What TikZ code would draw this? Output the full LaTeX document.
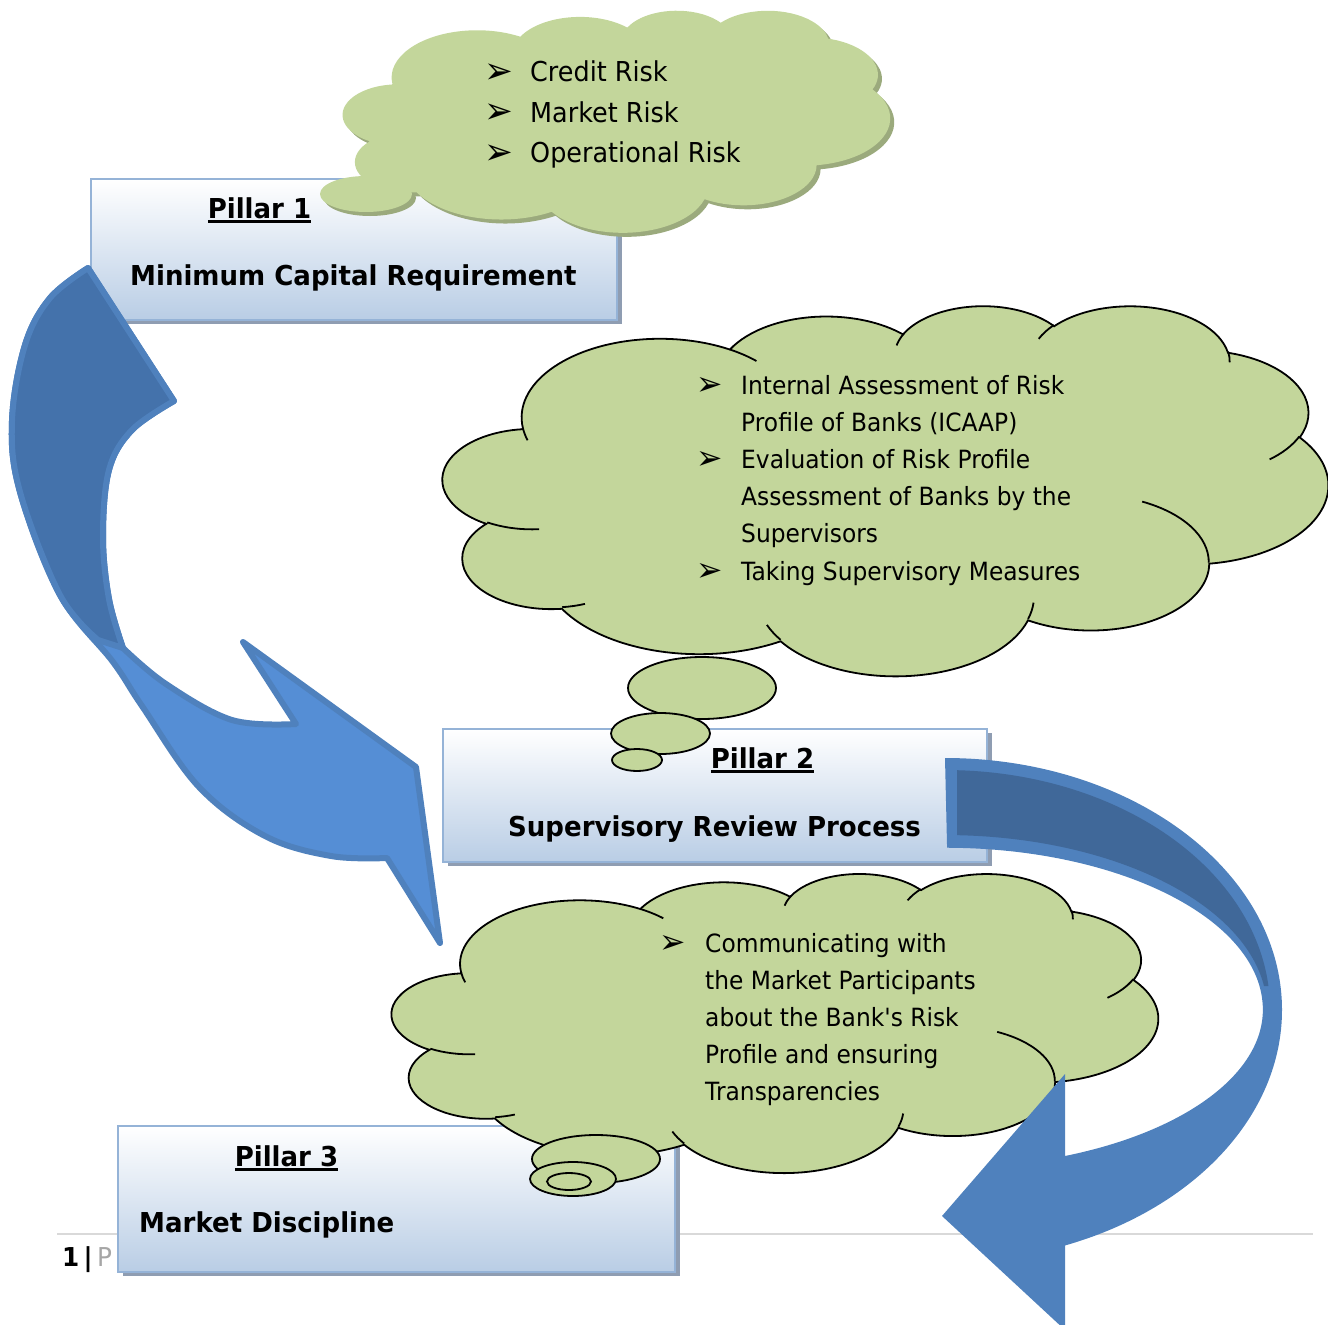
\documentclass[tikz,border=0pt]{standalone}
\usepackage{fontspec}
\usepackage{xcolor}
\usepackage{graphicx}
\usepackage{tikz}
\usetikzlibrary{shadows}
\newfontfamily\bodyfont{DejaVu Sans}[FakeStretch=0.93]
\newfontfamily\headfont{DejaVu Sans}[FakeStretch=0.95]
\definecolor{cloudgreen}{RGB}{195,214,155}
\definecolor{cloudshadow}{RGB}{155,170,125}
\definecolor{boxedge}{RGB}{149,179,215}
\definecolor{boxfill}{RGB}{185,205,229}
\definecolor{boxshadow}{RGB}{143,157,178}
\definecolor{arrowedge}{RGB}{79,129,189}
\definecolor{arrowlight}{RGB}{85,142,213}
\definecolor{arrowdark}{RGB}{68,114,171}
\definecolor{arrowdeep}{RGB}{64,104,153}
\definecolor{footgray}{RGB}{166,166,166}
\definecolor{footline}{RGB}{217,217,217}
% one lobe of the cloud: radii, start and sweep angle as seen from the centre
\newcommand\cloudarc[4]{arc[x radius=#1, y radius=#2,
  start angle={atan2(#1*sin(#3),#2*cos(#3))},
  delta angle={mod(atan2(#1*sin(#3+#4),#2*cos(#3+#4))-atan2(#1*sin(#3),#2*cos(#3))+720,360)}]}
\newcommand\cloudoutline{(39,143.7)
  \cloudarc{67.53}{91.90}{-190.4875}{123.7805}
  \cloudarc{53.33}{72.67}{-144.1024}{89.9452}
  \cloudarc{43.65}{59.45}{-145.8079}{99.7230}
  \cloudarc{48.57}{65.95}{-130.9861}{117.2417}
  \cloudarc{53.33}{72.73}{-78.7089}{109.0269}
  \cloudarc{67.75}{92.20}{-46.2673}{130.2690}
  \cloudarc{57.85}{78.67}{0.6250}{114.0333}
  \cloudarc{67.52}{92.15}{22.4516}{115.1726}
  \cloudarc{77.20}{105.43}{66.2426}{75.7110}
  \cloudarc{43.60}{59.18}{-274.9421}{146.7356}
  \cloudarc{43.45}{59.45}{-246.8285}{152.5189} -- cycle}
\newcommand\cloudcreases{%
  (46.93,261.77) \cloudarc{43.45}{59.45}{86.7420}{26.4295}
  (69.28,348.99) \cloudarc{43.60}{59.18}{73.6105}{11.4475}
  (164.78,390.90) \cloudarc{67.52}{92.15}{137.6242}{14.0811}
  (288.27,347.51) \cloudarc{67.52}{92.15}{6.4533}{15.9984}
  (341.29,229.54) \cloudarc{57.85}{78.67}{-70.2924}{70.9174}
  (417.98,153.54) \cloudarc{53.33}{72.73}{30.3180}{27.7515}
  (383.24,54.26) \cloudarc{48.57}{65.95}{-13.7443}{14.8589}
  (290.78,39.52) \cloudarc{48.57}{65.95}{-149.1815}{18.1954}
  (221.41,47.20) \cloudarc{43.65}{59.45}{-163.4943}{17.6864}
  (140.00,51.92) \cloudarc{67.53}{91.90}{-66.7070}{12.3194}
  (41.27,157.89) \cloudarc{67.53}{91.90}{157.6544}{11.8582}}
\newcommand\pillarline[1]{\setbox0=\hbox{#1}\rlap{\rule[-5pt]{\wd0}{2.6pt}}\box0}
\newcommand\riskmark{\raisebox{-1.5pt}{\scalebox{1.35}{➢}}}

\begin{document}
\begin{tikzpicture}[x=1pt, y=-1pt,
    pillarbox/.style={draw=boxedge, line width=2.5, top color=white, bottom color=boxfill,
      drop shadow={shadow xshift=5pt, shadow yshift=-4pt, fill=boxshadow, opacity=1}},
    pillarhead/.style={inner sep=0, font=\headfont\bfseries\fontsize{27.4}{32}\selectfont},
    risklist/.style={inner sep=0, anchor=base west},
    cloud/.style={fill=cloudgreen, draw=black, line width=1.8},
    crease/.style={draw=black, line width=1.8}]
    \useasboundingbox (0,0) rectangle (1328,1325);
    \draw[footline, line width=1.5] (57,1234) -- (1313,1234);
    \node[inner sep=0, anchor=base west, font=\headfont\fontsize{26}{30}\selectfont] (pagenum) at (62,1266)
        {\textbf{1}\,\textbf{|}\,\textcolor{footgray}{P}};
    \foreach \bx/\cx/\cy/\w/\h in {box1/354/249.5/526/141, box2/715/795.5/544/133, box3/396.5/1199/557/146}
        \node[pillarbox, minimum width=\w pt, minimum height=\h pt] (\bx) at (\cx,\cy) {};
    \node[pillarhead, anchor=base] (head1) at (259.5,218) {\pillarline{Pillar 1}};
    \node[pillarhead, anchor=base west] (name1) at (130,285) {Minimum Capital Requirement};
    \node[pillarhead, anchor=base] (head2) at (762.5,768) {\pillarline{Pillar 2}};
    \node[pillarhead, anchor=base west] (name2) at (508,836) {Supervisory Review Process};
    \node[pillarhead, anchor=base] (head3) at (286.5,1166) {\pillarline{Pillar 3}};
    \node[pillarhead, anchor=base west] (name3) at (139,1232) {Market Discipline};
    % pillar 1 cloud
    \begin{scope}[shift={(347,14)}, xscale=1.2662, yscale=0.51389]
        \fill[cloudshadow] \cloudoutline;
    \end{scope}
    \fill[cloudshadow] (370,198) ellipse[x radius=46, y radius=18];
    \begin{scope}[shift={(343,10)}, xscale=1.2662, yscale=0.51389]
        \fill[cloudgreen] \cloudoutline;
    \end{scope}
    \fill[cloudgreen] (366,194) ellipse[x radius=46, y radius=18];
    \node[risklist, font=\bodyfont\fontsize{27.4}{40.5}\selectfont] (risks) at (484,81.5)
        {\begin{tabular}[t]{@{}p{46pt}@{}l@{}}
        \riskmark & Credit Risk\\
        \riskmark & Market Risk\\
        \riskmark & Operational Risk
        \end{tabular}};
    % pillar 2 cloud
    \begin{scope}[shift={(443,305)}, xscale=2.04861, yscale=0.85648]
        \filldraw[cloud] \cloudoutline;
        \draw[crease] \cloudcreases;
    \end{scope}
    \foreach \ex/\ey/\rx/\ry in {702/688/74/31, 660.5/733.5/49.5/20.5, 637/760/25/11}
        \filldraw[cloud] (\ex,\ey) ellipse[x radius=\rx, y radius=\ry];
    \node[risklist, font=\bodyfont\fontsize{25.1}{37.2}\selectfont] (review) at (696,394)
        {\begin{tabular}[t]{@{}p{45pt}@{}l@{}}
        \riskmark & Internal Assessment of Risk\\
          & Profile of Banks (ICAAP)\\
        \riskmark & Evaluation of Risk Profile\\
          & Assessment of Banks by the\\
          & Supervisors\\
        \riskmark & Taking Supervisory Measures
        \end{tabular}};
    % pillar 3 cloud
    \begin{scope}[shift={(392,873)}, xscale=1.77315, yscale=0.69213]
        \filldraw[cloud] \cloudoutline;
        \draw[crease] \cloudcreases;
    \end{scope}
    \foreach \ex/\ey/\rx/\ry in {596/1159/64/24, 573/1179/43/17, 569/1181.5/22/8.5}
        \filldraw[cloud] (\ex,\ey) ellipse[x radius=\rx, y radius=\ry];
    \node[risklist, font=\bodyfont\fontsize{25.1}{37.2}\selectfont] (market) at (659,952)
        {\begin{tabular}[t]{@{}p{46pt}@{}l@{}}
        \riskmark & Communicating with\\
          & the Market Participants\\
          & about the Bank's Risk\\
          & Profile and ensuring\\
          & Transparencies
        \end{tabular}};
    % arrow from pillar 1 to pillar 2
    \filldraw[draw=arrowedge, fill=arrowlight, line width=6, line join=round]
        (88,268) -- plot[smooth, tension=0.6] coordinates {(88,268) (50,298) (25,345) (12,421) (20,492) (60,595)
            (113,662) (142,706) (199,787) (265,836) (331,856) (387,858)}
        -- (440,943) -- (416,767) -- (243,642) -- (296,724)
        -- plot[smooth, tension=0.6] coordinates {(296,724) (232,720) (166,684) (123,648)}
        -- plot[smooth, tension=0.6] coordinates {(123,648) (109,599) (103,537) (109,470) (132,430) (174,401)}
        -- cycle;
    \filldraw[draw=arrowedge, fill=arrowdark, line width=6, line join=round]
        (88,268) -- plot[smooth, tension=0.6] coordinates {(88,268) (50,298) (25,345) (12,421) (20,492) (60,595) (98,640)}
        -- (123,648)
        -- plot[smooth, tension=0.6] coordinates {(123,648) (109,599) (103,537) (109,470) (132,430) (174,401)}
        -- cycle;
    % arrow from pillar 2 to pillar 3
    \fill[arrowedge] (945,758) arc[start angle=-90, end angle=69.1, x radius=337, y radius=252]
        -- (1065,1330) -- (942,1216) -- (1065,1074) -- (1065,1156)
        arc[start angle=67.8, end angle=0, x radius=318, y radius=158]
        arc[start angle=0, end angle=-89.6, x radius=318, y radius=162] -- cycle;
    \fill[arrowdeep] (957,770.2) arc[start angle=-87.9, end angle=-5.74, x radius=325, y radius=240]
        -- (1264,986) arc[start angle=-7.9, end angle=-87.86, x radius=322, y radius=175] -- cycle;
\end{tikzpicture}
\end{document}
